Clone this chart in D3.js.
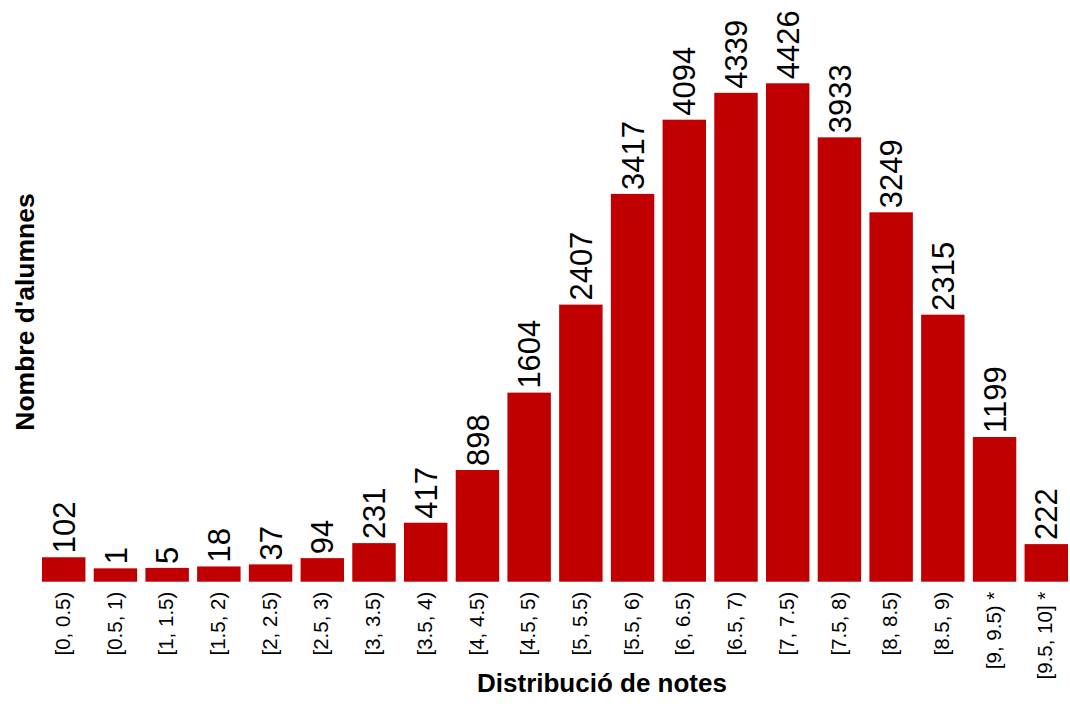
<!DOCTYPE html>
<html><head><meta charset="utf-8">
<script src="https://cdn.jsdelivr.net/npm/d3@7"></script>
<style>body{margin:0;background:#fff;} svg{display:block;}</style>
</head><body>
<svg id="chart" width="1070" height="721"></svg>
<script>
const categories = ["[0, 0.5)","[0.5, 1)","[1, 1.5)","[1.5, 2)","[2, 2.5)","[2.5, 3)","[3, 3.5)","[3.5, 4)","[4, 4.5)","[4.5, 5)","[5, 5.5)","[5.5, 6)","[6, 6.5)","[6.5, 7)","[7, 7.5)","[7.5, 8)","[8, 8.5)","[8.5, 9)","[9, 9.5) *","[9.5, 10] *"];
const values = [102,1,5,18,37,94,231,417,898,1604,2407,3417,4094,4339,4426,3933,3249,2315,1199,222];
const xTitle = "Distribució de notes";
const yTitle = "Nombre d'alumnes";

const svg = d3.select("#chart");
const font = "'Liberation Sans', Arial, Helvetica, sans-serif";
const bottom = 581.7;

const x = d3.scaleBand().domain(categories).range([42, 1068]).paddingInner(0.16).paddingOuter(0);
const y = d3.scaleLinear().domain([-121, 4426]).range([bottom, 83.3]);

svg.selectAll("rect.bar").data(values).join("rect")
  .attr("class","bar")
  .attr("x",(d,i)=>x(categories[i]))
  .attr("width",x.bandwidth())
  .attr("y",d=>y(d))
  .attr("height",d=>bottom-y(d))
  .attr("fill","#C00000");

svg.selectAll("text.val").data(values).join("text")
  .attr("class","val")
  .attr("transform",(d,i)=>`translate(${x(categories[i])+x.bandwidth()/2},${y(d)-4}) rotate(-90)`)
  .attr("dy","0.36em")
  .attr("text-anchor","start")
  .style("font-family",font).style("font-size","31px").attr("fill","#000")
  .text(d=>d);

const xAxis = d3.axisBottom(x).tickSize(0).tickPadding(0);
const gx = svg.append("g").attr("transform",`translate(0,${bottom})`).call(xAxis);
gx.select(".domain").remove();
gx.selectAll("text")
  .attr("transform","rotate(-90)")
  .attr("x",-10).attr("y",0).attr("dy","0.3em")
  .attr("text-anchor","end")
  .style("font-family",font).style("font-size","20.5px").attr("fill","#000");

svg.append("text").attr("x",602).attr("y",692).attr("text-anchor","middle")
  .style("font-family",font).style("font-size","26px").style("font-weight","bold").text(xTitle);
svg.append("text").attr("transform","translate(34,312) rotate(-90)").attr("text-anchor","middle")
  .style("font-family",font).style("font-size","26.5px").style("font-weight","bold").text(yTitle);
</script>
</body></html>
